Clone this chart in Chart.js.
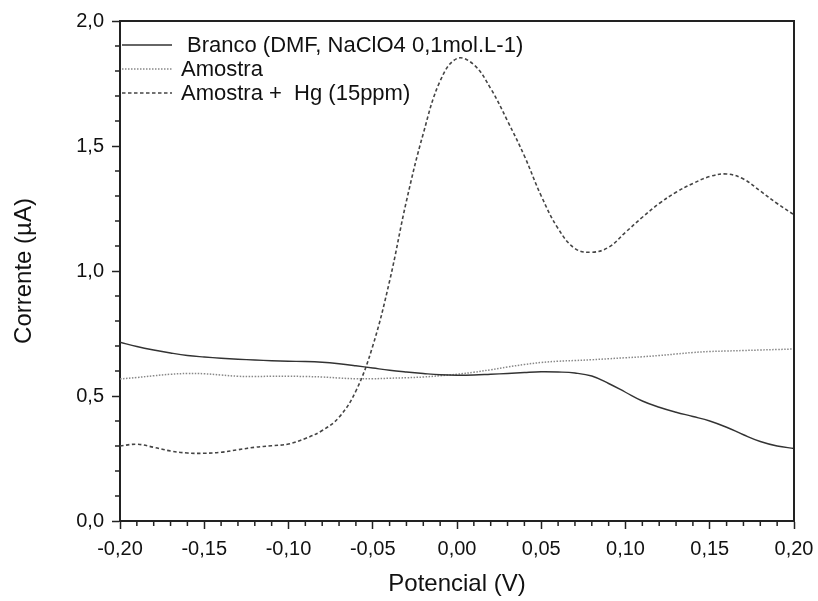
<!DOCTYPE html>
<html>
<head>
<meta charset="utf-8">
<script src="https://cdn.jsdelivr.net/npm/chart.js@4.4.1/dist/chart.umd.min.js"></script>
<style>
  html, body { margin: 0; padding: 0; background: #fff; }
  #wrap { width: 818px; height: 601px; }
</style>
</head>
<body>
<div id="wrap"><canvas id="voltChart"></canvas></div>
<script>
// potencial (V)
var potencial = [
  -0.20, -0.19, -0.18, -0.17, -0.16, -0.15, -0.14, -0.13, -0.12, -0.11,
  -0.10, -0.09, -0.08, -0.07, -0.06, -0.05, -0.04, -0.03, -0.02, -0.01,
  0.00, 0.01, 0.02, 0.03, 0.04, 0.05, 0.06, 0.07, 0.08, 0.09,
  0.10, 0.11, 0.12, 0.13, 0.14, 0.15, 0.16, 0.17, 0.18, 0.19, 0.20
]

// corrente (uA) de cada varredura
var branco = [
  0.715, 0.698, 0.684, 0.672, 0.662, 0.656, 0.651, 0.647, 0.644, 0.641,
  0.639, 0.638, 0.635, 0.629, 0.621, 0.612, 0.603, 0.596, 0.590, 0.585,
  0.583, 0.584, 0.587, 0.590, 0.594, 0.597, 0.596, 0.592, 0.580, 0.550,
  0.515, 0.480, 0.455, 0.435, 0.418, 0.400, 0.375, 0.345, 0.318, 0.300, 0.290
]
var amostra = [
  0.568, 0.574, 0.581, 0.587, 0.590, 0.589, 0.584, 0.579, 0.578, 0.579,
  0.579, 0.578, 0.576, 0.572, 0.569, 0.569, 0.571, 0.573, 0.576, 0.581,
  0.587, 0.595, 0.605, 0.616, 0.626, 0.634, 0.639, 0.642, 0.645, 0.649,
  0.653, 0.657, 0.662, 0.668, 0.674, 0.678, 0.680, 0.682, 0.684, 0.686, 0.688
]
var amostraHg = [
  0.300, 0.307, 0.295, 0.280, 0.272, 0.271, 0.275, 0.285, 0.295, 0.301,
  0.308, 0.330, 0.362, 0.415, 0.520, 0.700, 0.960, 1.280, 1.550, 1.760,
  1.850, 1.825, 1.730, 1.600, 1.460, 1.300, 1.170, 1.090, 1.075, 1.095,
  1.155, 1.215, 1.270, 1.315, 1.350, 1.378, 1.388, 1.368, 1.320, 1.270, 1.225
]

var legendas = ['Branco (DMF, NaClO4 0,1mol.L-1)', 'Amostra', 'Amostra +  Hg (15ppm)']

function pares(ys) {
  return potencial.map(function (x, i) { return { x: x, y: ys[i] } })
}

var fonte = "'Liberation Sans', Arial, sans-serif"

// moldura, ticks menores e legenda dentro do grafico
const moldura = {
  id: 'moldura',
  afterDraw(chart) {
    const { ctx, chartArea: { top, bottom, left, right } } = chart
    const xs = chart.scales.x
    const ys = chart.scales.y
    ctx.save()
    ctx.strokeStyle = '#222'
    ctx.lineWidth = 2
    ctx.beginPath()
    ctx.moveTo(left, top)
    ctx.lineTo(right, top)
    ctx.lineTo(right, bottom)
    ctx.stroke()

    // ticks menores
    ctx.lineWidth = 1.5
    ctx.beginPath()
    for (let i = -20; i <= 20; i++) {
      if (i % 5 === 0) continue
      const px = xs.getPixelForValue(i / 100)
      ctx.moveTo(px, bottom)
      ctx.lineTo(px, bottom + 5)
    }
    for (let j = 0; j <= 20; j++) {
      if (j % 5 === 0) continue
      const py = ys.getPixelForValue(j / 10)
      ctx.moveTo(left, py)
      ctx.lineTo(left - 5, py)
    }
    ctx.stroke()

    // legenda
    ctx.font = '22px ' + fonte
    ctx.textBaseline = 'middle'
    ctx.fillStyle = '#111'
    const linhaY = [45, 69, 93]
    const textoX = [187, 181, 181]
    chart.data.datasets.forEach((ds, i) => {
      ctx.strokeStyle = ds.borderColor
      ctx.lineWidth = ds.borderWidth
      ctx.setLineDash(ds.borderDash || [])
      ctx.beginPath()
      ctx.moveTo(left + 2, linhaY[i])
      ctx.lineTo(left + 52, linhaY[i])
      ctx.stroke()
      ctx.setLineDash([])
      ctx.fillText(ds.label, textoX[i], linhaY[i] + 1)
    })
    ctx.restore()
  }
}

var ctxVolt = document.getElementById('voltChart').getContext('2d')
var voltChart = new Chart(ctxVolt, {
  type: 'line',
  data: {
    datasets: [
      {
        label: legendas[0],
        data: pares(branco),
        borderColor: '#333',
        borderWidth: 1.4,
        pointRadius: 0,
        tension: 0.4
      },
      {
        label: legendas[1],
        data: pares(amostra),
        borderColor: '#888',
        borderWidth: 1.5,
        borderDash: [1.5, 1.5],
        pointRadius: 0,
        tension: 0.4
      },
      {
        label: legendas[2],
        data: pares(amostraHg),
        borderColor: '#444',
        borderWidth: 1.6,
        borderDash: [3.5, 2.5],
        pointRadius: 0,
        tension: 0.4
      }
    ]
  },
  options: {
    responsive: true,
    maintainAspectRatio: false,
    animation: false,
    layout: {
      padding: { top: 21, right: 24, left: 0, bottom: 0 }
    },
    plugins: {
      legend: { display: false },
      tooltip: { enabled: false }
    },
    scales: {
      x: {
        type: 'linear',
        min: -0.2,
        max: 0.2,
        afterFit(scale) {
          scale.height = 80
          scale.paddingLeft = 0
          scale.paddingRight = 0
        },
        border: { display: true, color: '#222', width: 2 },
        grid: { drawOnChartArea: false, tickLength: 8, tickWidth: 1.5, color: '#222' },
        ticks: {
          stepSize: 0.05,
          padding: 8,
          color: '#111',
          font: { family: fonte, size: 20 },
          callback: function (v) { return v.toFixed(2).replace('.', ',') }
        },
        title: {
          display: true,
          text: 'Potencial (V)',
          color: '#111',
          font: { family: fonte, size: 24 },
          padding: { top: 0, bottom: 2 }
        }
      },
      y: {
        min: 0,
        max: 2,
        afterFit(scale) {
          scale.width = 120
          scale.paddingTop = 0
          scale.paddingBottom = 0
        },
        border: { display: true, color: '#222', width: 2 },
        grid: { drawOnChartArea: false, tickLength: 8, tickWidth: 1.5, color: '#222' },
        ticks: {
          stepSize: 0.5,
          padding: 8,
          color: '#111',
          font: { family: fonte, size: 20 },
          callback: function (v) { return v.toFixed(1).replace('.', ',') }
        },
        title: {
          display: true,
          text: 'Corrente (\u00b5A)',
          color: '#111',
          font: { family: fonte, size: 24 },
          padding: { top: 10, bottom: 0 }
        }
      }
    }
  },
  plugins: [moldura]
})
</script>
</body>
</html>
